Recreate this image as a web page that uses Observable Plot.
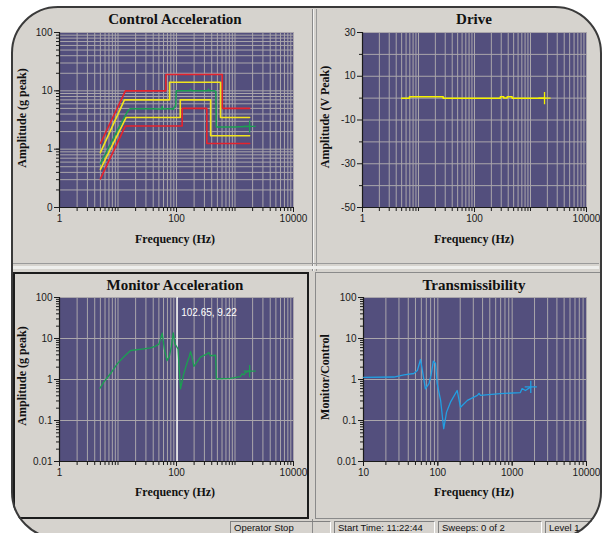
<!DOCTYPE html>
<html><head><meta charset="utf-8">
<script src="https://cdn.jsdelivr.net/npm/d3@7"></script>
<script src="https://cdn.jsdelivr.net/npm/@observablehq/plot@0.6"></script>
<style>
body{margin:0;background:#fff;width:603px;height:533px;overflow:hidden;position:relative;font-family:"Liberation Sans",Arial,sans-serif}
#frame{position:absolute;left:12px;top:7px;width:589px;height:531px;box-sizing:border-box;border-radius:46px;background:#d6d3ce}
#frameline{position:absolute;left:11px;top:6px;width:591px;height:533px;box-sizing:border-box;border:2px solid #3a3a3a;border-radius:47px;box-shadow:0 0 0 80px #fff;z-index:20;pointer-events:none}
.abs{position:absolute}
.title{position:absolute;font-family:"Liberation Serif","Times New Roman",serif;font-weight:bold;font-size:15px;line-height:16px;color:#111;text-align:center;width:260px;white-space:nowrap}
.alabel{position:absolute;font-family:"Liberation Serif","Times New Roman",serif;font-weight:bold;font-size:12px;line-height:14px;color:#111;text-align:center;width:200px;white-space:nowrap}
.ylab{transform:rotate(-90deg)}
.chart{position:absolute}
.chart svg{max-width:none;display:block}
.sbox{position:absolute;top:521px;height:12px;box-sizing:border-box;border-top:1px solid #808080;border-left:1px solid #808080;border-right:1px solid #fff;font-size:9.5px;line-height:10px;padding:1px 0 0 3px;color:#111;white-space:nowrap;overflow:visible}
</style></head>
<body>
<div id="frame"></div>
<!-- panel dividers -->
<div class="abs" style="left:312px;top:9px;width:1px;height:262px;background:#8a8a8a"></div>
<div class="abs" style="left:313px;top:9px;width:1px;height:262px;background:#f2f2f2"></div>
<div class="abs" style="left:316px;top:9px;width:1px;height:262px;background:#9a9a9a"></div>
<div class="abs" style="left:13px;top:263px;width:586px;height:1px;background:#9a9a9a"></div>
<div class="abs" style="left:13px;top:266px;width:586px;height:3px;background:#eeeeec"></div>
<div class="abs" style="left:13px;top:272px;width:296px;height:247px;box-sizing:border-box;border:2px solid #1c1c1c"></div>
<div class="abs" style="left:315px;top:272px;width:286px;height:247px;box-sizing:border-box;border:1px solid #8a8a8a;border-right:none"></div>
<div class="abs" style="left:312px;top:519px;width:1px;height:14px;background:#8a8a8a"></div>

<div id="c1" class="chart" style="left:13px;top:8px"></div>
<div id="c2" class="chart" style="left:316px;top:8px"></div>
<div id="c3" class="chart" style="left:13px;top:272px"></div>
<div id="c4" class="chart" style="left:316px;top:272px"></div>

<div class="title" style="left:45px;top:11px">Control Acceleration</div>
<div class="title" style="left:344px;top:11px">Drive</div>
<div class="title" style="left:45px;top:277px">Monitor Acceleration</div>
<div class="title" style="left:344px;top:277px">Transmissibility</div>

<div class="alabel" style="left:75px;top:232px">Frequency (Hz)</div>
<div class="alabel" style="left:374px;top:232px">Frequency (Hz)</div>
<div class="alabel" style="left:75px;top:485px">Frequency (Hz)</div>
<div class="alabel" style="left:374px;top:485px">Frequency (Hz)</div>

<div class="alabel ylab" style="left:-78px;top:111px">Amplitude (g peak)</div>
<div class="alabel ylab" style="left:225px;top:110px">Amplitude (V Peak)</div>
<div class="alabel ylab" style="left:-78px;top:369px">Amplitude (g peak)</div>
<div class="alabel ylab" style="left:225px;top:370px">Monitor/Control</div>

<div class="sbox" style="left:230px;width:101px">Operator Stop</div>
<div class="sbox" style="left:334px;width:101px">Start Time: 11:22:44</div>
<div class="sbox" style="left:438px;width:104px">Sweeps: 0 of 2</div>
<div class="sbox" style="left:545px;width:60px">Level 1</div>

<div id="frameline"></div>

<script>
// ---------- Data ----------
// Control Acceleration: abort (red) and alarm (yellow) limit lines, control trace (green)
const redHiF = [5, 13.4, 66, 66, 605, 605, 1780];
const redHiA = [1.25, 10, 10, 19, 19, 5, 5];
const yelHiF = [5, 12.9, 76, 76, 565, 565, 1780];
const yelHiA = [0.87, 7, 7, 14, 14, 3.5, 3.5];
const yelLoF = [5, 13.8, 116, 116, 383, 383, 1780];
const yelLoA = [0.45, 3.5, 3.5, 7, 7, 1.7, 1.7];
const redLoF = [5, 13.4, 125, 125, 330, 330, 1780];
const redLoA = [0.31, 2.5, 2.5, 5, 5, 1.25, 1.25];
const ctrlF = [5, 5.5, 6, 7, 8, 9, 10, 11, 12, 13, 14, 15, 16.3, 20, 30, 40, 50, 56, 57, 58, 70, 85, 88, 92, 97, 99, 120, 150, 170, 174, 178, 250, 340, 354, 360, 440, 470, 480, 600, 1000, 1500, 1780];
const ctrlA = [0.56, 0.68, 0.8, 1.1, 1.4, 1.8, 2.2, 2.6, 3.1, 3.6, 4.1, 4.6, 4.95, 4.95, 4.95, 4.95, 4.9, 4.9, 5.4, 4.9, 4.95, 4.95, 4.8, 5.3, 5.4, 10, 10, 10, 10, 10.6, 10, 10, 10, 10.6, 10, 10, 9.8, 2.4, 2.4, 2.4, 2.45, 2.45];
// Drive
const driveF = [5, 6.9, 6.9, 27.6, 27.6, 290, 290, 333, 333, 383, 383, 470, 470, 1780];
const driveV = [0, 0, 0.6, 0.6, 0, 0, 0.6, 0.6, 0.1, 0.1, 0.6, 0.6, 0, 0];
// Monitor Acceleration
const monF = [4.9, 5.7, 7.4, 9.7, 12.6, 16.4, 27.6, 36, 44, 50, 57, 62, 69, 76, 82, 88, 91, 94, 106, 117, 133, 152, 165, 174, 185, 198, 257, 334, 355, 380, 466, 480, 835, 1230, 1320, 1420, 1510, 1780];
const monA = [0.61, 0.86, 1.38, 2.4, 3.6, 5.1, 5.6, 5.9, 6.5, 7.3, 13.5, 5.5, 2.9, 3.8, 6.5, 13.7, 10, 7.4, 5.6, 0.59, 1.38, 2.6, 3.6, 4.8, 3.5, 2.1, 3.5, 4.2, 4.6, 3.8, 3.9, 1.04, 1.07, 1.18, 1.38, 1.3, 1.5, 1.6];
const cursorF = 102.65, cursorA = 9.22;
// Transmissibility
const trF = [10, 25.6, 35, 47.6, 53, 58.5, 61.6, 68, 76, 81, 87, 93, 98, 109, 120, 131, 148, 182, 202, 250, 340, 358, 375, 690, 1290, 1360, 1510, 1780];
const trA = [1.13, 1.15, 1.3, 1.4, 1.66, 3.07, 1.8, 0.59, 0.79, 1.26, 2.8, 2.5, 0.79, 0.31, 0.063, 0.16, 0.28, 0.54, 0.21, 0.31, 0.41, 0.46, 0.41, 0.45, 0.48, 0.6, 0.54, 0.66];
// Tick labels
const freqTicks1 = [1, 100, 10000];
const freqTicks4 = [10, 100, 1000, 10000];
const ctrlYTicks = [0.1, 1, 10, 100];
const ctrlYLabels = ["0", "1", "10", "100"];
const driveYTicks = [30, 10, -10, -30, -50];
const driveYMinor = [20, 0, -20, -40];
const logYTicks = [0.01, 0.1, 1, 10, 100];
const logYLabels = ["0.01", "0.1", "1", "10", "100"];

// ---------- Style ----------
const BG = "#534f7d", GRID = "#aaa6ab", AX = "#1a1a1a";
const RED = "#e5222c", YEL = "#f2e41e", GRN = "#1b9f52", BLUE = "#229fe2", DRV = "#f6f200";

function minors(lo, hi) {
  const out = [];
  for (let d = lo; d < hi; d *= 10) for (let k = 1; k < 10; k++) out.push(+(k * d).toPrecision(3));
  out.push(hi);
  return out;
}
const pts = (F, A) => F.map((f, i) => ({f, a: A[i]}));
const styleObj = {background: "transparent", fontFamily: "'Liberation Sans', Arial, sans-serif", fontSize: "10px", overflow: "visible"};

function axes({xMinor, xTicks, yMinor, yTicks, yLabels, xLo, yLo}) {
  return [
    Plot.axisX(xMinor, {tickSize: 4, tickFormat: () => "", label: null, color: AX}),
    Plot.axisX(xTicks, {tickSize: 5, tickPadding: 2, tickFormat: d => String(d), label: null, color: AX}),
    Plot.axisY(yMinor, {tickSize: 3, tickFormat: () => "", label: null, color: AX}),
    Plot.axisY(yTicks, {tickSize: 5, tickPadding: 2, tickFormat: d => yLabels[yTicks.indexOf(d)], label: null, color: AX}),
    Plot.ruleX([xLo], {stroke: AX, strokeWidth: 1.2}),
    Plot.ruleY([yLo], {stroke: AX, strokeWidth: 1.2})
  ];
}

// ---------- Control Acceleration ----------
const fMin1 = minors(1, 10000);
document.getElementById("c1").append(Plot.plot({
  width: 299, height: 254, marginLeft: 46, marginRight: 19, marginTop: 24, marginBottom: 55,
  style: styleObj,
  x: {type: "log", domain: [1, 10000], axis: null},
  y: {type: "log", domain: [0.1, 100], axis: null},
  marks: [
    Plot.frame({fill: BG, stroke: null}),
    Plot.gridX(fMin1, {stroke: GRID, strokeOpacity: 1}),
    Plot.gridY(minors(0.1, 100), {stroke: GRID, strokeOpacity: 1}),
    ...axes({xMinor: fMin1, xTicks: freqTicks1, yMinor: minors(0.1, 100), yTicks: ctrlYTicks, yLabels: ctrlYLabels, xLo: 1, yLo: 0.1}),
    Plot.line(pts(redHiF, redHiA), {x: "f", y: "a", stroke: RED, strokeWidth: 1.6}),
    Plot.line(pts(redLoF, redLoA), {x: "f", y: "a", stroke: RED, strokeWidth: 1.6}),
    Plot.line(pts(yelHiF, yelHiA), {x: "f", y: "a", stroke: YEL, strokeWidth: 1.6}),
    Plot.line(pts(yelLoF, yelLoA), {x: "f", y: "a", stroke: YEL, strokeWidth: 1.6}),
    Plot.line(pts(ctrlF, ctrlA), {x: "f", y: "a", stroke: GRN, strokeWidth: 1.5}),
    Plot.dot(pts(ctrlF, ctrlA).slice(-1), {x: "f", y: "a", symbol: "plus", r: 4, stroke: GRN, fill: "none", strokeWidth: 1.3})
  ]
}));

// ---------- Drive ----------
document.getElementById("c2").append(Plot.plot({
  width: 283, height: 254, marginLeft: 46, marginRight: 13, marginTop: 24, marginBottom: 55,
  style: styleObj,
  x: {type: "log", domain: [1, 10000], axis: null},
  y: {domain: [-50, 30], axis: null},
  marks: [
    Plot.frame({fill: BG, stroke: null}),
    Plot.gridX(fMin1, {stroke: GRID, strokeOpacity: 1}),
    Plot.gridY(d3.range(-50, 31, 10), {stroke: GRID, strokeOpacity: 1}),
    ...axes({xMinor: fMin1, xTicks: freqTicks1, yMinor: driveYMinor, yTicks: driveYTicks, yLabels: driveYTicks.map(String), xLo: 1, yLo: -50}),
    Plot.line(pts(driveF, driveV), {x: "f", y: "a", stroke: DRV, strokeWidth: 1.5}),
    Plot.dot(pts(driveF, driveV).slice(-1), {x: "f", y: "a", symbol: "plus", r: 4, stroke: DRV, fill: "none", strokeWidth: 1.3})
  ]
}));

// ---------- Monitor Acceleration ----------
document.getElementById("c3").append(Plot.plot({
  width: 295, height: 246, marginLeft: 46, marginRight: 15, marginTop: 25, marginBottom: 57,
  style: styleObj,
  x: {type: "log", domain: [1, 10000], axis: null},
  y: {type: "log", domain: [0.01, 100], axis: null},
  marks: [
    Plot.frame({fill: BG, stroke: null}),
    Plot.gridX(fMin1, {stroke: GRID, strokeOpacity: 1}),
    Plot.gridY(logYTicks, {stroke: GRID, strokeOpacity: 1}),
    ...axes({xMinor: fMin1, xTicks: freqTicks1, yMinor: minors(0.01, 100), yTicks: logYTicks, yLabels: logYLabels, xLo: 1, yLo: 0.01}),
    Plot.ruleX([cursorF], {stroke: "#ffffff", strokeWidth: 1.3}),
    Plot.text([cursorF], {x: d => d, frameAnchor: "top", dy: 11, dx: 4, textAnchor: "start", text: () => `${cursorF}, ${cursorA}`, fill: "#ffffff", fontSize: 10}),
    Plot.line(pts(monF, monA), {x: "f", y: "a", stroke: GRN, strokeWidth: 1.3}),
    Plot.dot(pts(monF, monA).slice(-1), {x: "f", y: "a", symbol: "plus", r: 4, stroke: GRN, fill: "none", strokeWidth: 1.3})
  ]
}));

// ---------- Transmissibility ----------
document.getElementById("c4").append(Plot.plot({
  width: 283, height: 246, marginLeft: 47, marginRight: 13, marginTop: 25, marginBottom: 57,
  style: styleObj,
  x: {type: "log", domain: [10, 10000], axis: null},
  y: {type: "log", domain: [0.01, 100], axis: null},
  marks: [
    Plot.frame({fill: BG, stroke: null}),
    Plot.gridX(minors(10, 10000), {stroke: GRID, strokeOpacity: 1}),
    Plot.gridY(logYTicks, {stroke: GRID, strokeOpacity: 1}),
    ...axes({xMinor: minors(10, 10000), xTicks: freqTicks4, yMinor: minors(0.01, 100), yTicks: logYTicks, yLabels: logYLabels, xLo: 10, yLo: 0.01}),
    Plot.line(pts(trF, trA), {x: "f", y: "a", stroke: BLUE, strokeWidth: 1.3}),
    Plot.dot(pts(trF, trA).slice(-1), {x: "f", y: "a", symbol: "plus", r: 4, stroke: BLUE, fill: "none", strokeWidth: 1.3})
  ]
}));
</script>
</body></html>
